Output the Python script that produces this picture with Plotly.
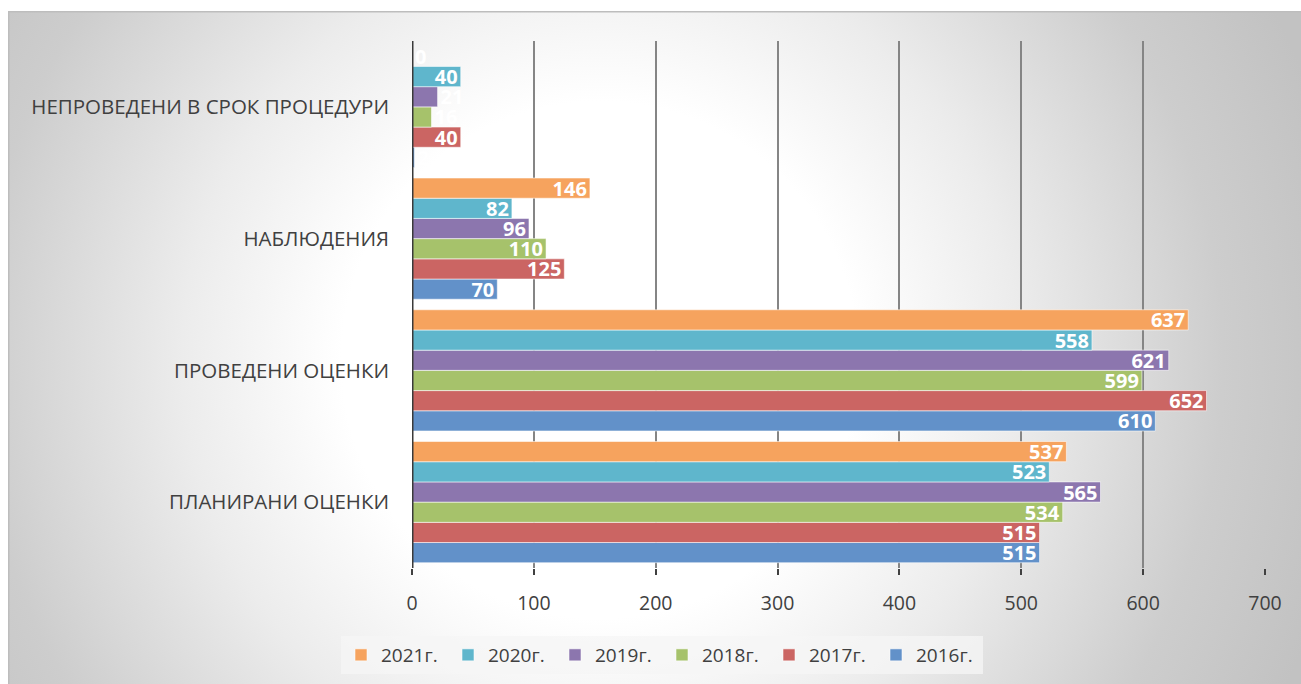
import base64
import plotly.graph_objects as go

categories = ["ПЛАНИРАНИ ОЦЕНКИ", "ПРОВЕДЕНИ ОЦЕНКИ", "НАБЛЮДЕНИЯ",
              "НЕПРОВЕДЕНИ В СРОК ПРОЦЕДУРИ"]

years = ["2016г.", "2017г.", "2018г.", "2019г.", "2020г.", "2021г."]
v2016 = [515, 610, 70, 2]
v2017 = [515, 652, 125, 40]
v2018 = [534, 599, 110, 16]
v2019 = [565, 621, 96, 21]
v2020 = [523, 558, 82, 40]
v2021 = [537, 637, 146, 0]
series = [v2016, v2017, v2018, v2019, v2020, v2021]

colors = ["#6291C9", "#CB6563", "#A6C26B", "#8C76AE", "#5FB6CC", "#F6A35E"]

W, H = 1301, 684

# radial grey background of the chart area (Excel style)
svg = (
    '<svg xmlns="http://www.w3.org/2000/svg" width="1293" height="673" '
    'viewBox="0 0 1293 673" preserveAspectRatio="none">'
    '<defs><radialGradient id="g" gradientUnits="userSpaceOnUse" '
    'cx="592" cy="349" r="760">'
    '<stop offset="0" stop-color="#ffffff"/>'
    '<stop offset="0.34" stop-color="#ffffff"/>'
    '<stop offset="0.55" stop-color="#ececec"/>'
    '<stop offset="0.82" stop-color="#cdcdcd"/>'
    '<stop offset="1" stop-color="#c2c2c2"/>'
    '</radialGradient></defs>'
    '<rect x="0" y="0" width="1293" height="673" fill="url(#g)"/>'
    '<path d="M0.75 673 V0.75 H1293" fill="none" stroke="#bdbdbd" stroke-width="1.5"/>'
    '</svg>'
)
bg_uri = "data:image/svg+xml;base64," + base64.b64encode(svg.encode()).decode()

fig = go.Figure()

for name, vals, col in zip(years, series, colors):
    fig.add_trace(go.Bar(
        y=categories, x=vals, name=name, orientation="h",
        marker=dict(color=col, line=dict(color="rgba(255,255,255,0.55)", width=1)),
        text=[str(v) for v in vals],
        textposition=["inside" if v >= 30 else "outside" for v in vals],
        insidetextanchor="end",
        textangle=0,
        constraintext="none",
        cliponaxis=False,
        textfont=dict(family="Open Sans", size=20, color="white", weight="bold"),
        outsidetextfont=dict(family="Open Sans", size=20, color="white", weight="bold"),
    ))

fig.update_layout(
    width=W, height=H, autosize=False,
    margin=dict(l=0, r=0, t=0, b=0, pad=0, autoexpand=False),
    paper_bgcolor="white",
    plot_bgcolor="rgba(0,0,0,0)",
    barmode="group",
    bargap=0.08,
    bargroupgap=0,
    font=dict(family="Open Sans", color="#404040"),
    images=[dict(source=bg_uri, xref="paper", yref="paper",
                 x=8 / W, y=1 - 11 / H, sizex=1 - 8 / W, sizey=1 - 11 / H,
                 xanchor="left", yanchor="top", sizing="stretch", layer="below")],
    xaxis=dict(
        domain=[412 / W, 1265 / W],
        range=[0, 700], dtick=100,
        showgrid=True, gridcolor="#858585", gridwidth=1.5,
        zeroline=False, showline=False,
        ticks="outside", ticklen=6, tickwidth=1.5, tickcolor="#404040",
        ticklabelstandoff=12,
        tickfont=dict(size=19.5, color="#404040"),
    ),
    yaxis=dict(
        domain=[1 - 568 / H, 1 - 41 / H],
        showgrid=False, zeroline=False,
        showline=False, ticks="",
        ticklabelstandoff=22,
        tickfont=dict(size=20.5, color="#404040"),
    ),
    shapes=[dict(type="line", xref="x", yref="y domain", x0=0, x1=0, y0=0, y1=1,
                 line=dict(color="#3a3a3a", width=3))],
    legend=dict(
        orientation="h", traceorder="reversed",
        x=662 / W, xanchor="center", y=1 - 655 / H, yanchor="middle",
        bgcolor="rgba(245,245,245,0.75)",
        font=dict(size=19, color="#404040"),
        entrywidth=62, entrywidthmode="pixels",
    ),
    showlegend=True,
)

fig.write_html(
    "out.html",
    config={"responsive": False, "displayModeBar": False},
    post_script="document.body.style.margin='0';"
                "document.documentElement.style.overflow='hidden';",
)
